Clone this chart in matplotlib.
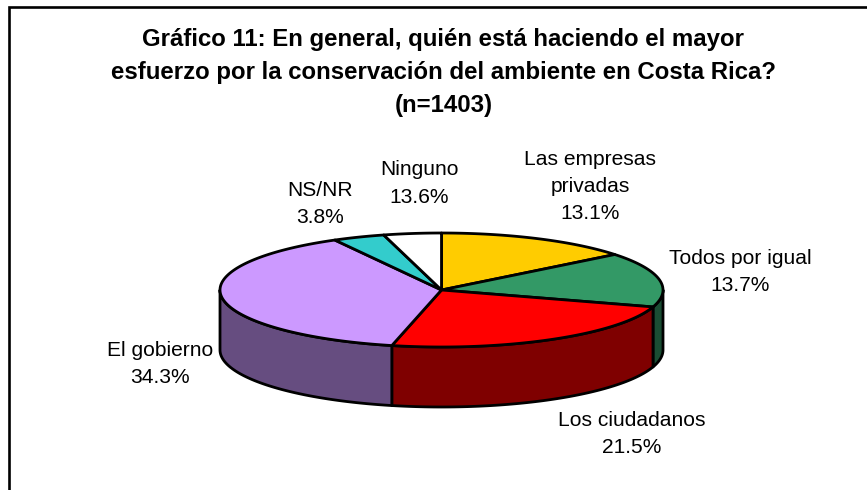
import numpy as np
import matplotlib
matplotlib.use("Agg")
import matplotlib.pyplot as plt

plt.rcParams["font.family"] = ["Liberation Sans", "DejaVu Sans"]

# printed labels
categories = ["Las empresas\nprivadas", "Todos por igual", "Los ciudadanos",
              "El gobierno", "NS/NR", "Ninguno"]
printed_values = [13.1, 13.7, 21.5, 34.3, 3.8, 13.6]
# share of the circle each slice really takes in the picture
# (Ninguno is drawn much smaller than its printed value)
drawn_shares = [14.3, 15.5, 23.8, 38.4, 3.8, 4.2]

top_colors = ["#ffcc00", "#339966", "#ff0000", "#cc99ff", "#33cccc", "#ffffff"]
side_colors = ["#7f6600", "#1a4d33", "#7f0000", "#664d80", "#1a6666", "#808080"]
label_pos = [(590, 186.5), (740, 272), (631.5, 434), (160, 364), (320, 204), (419, 183.5)]

title = ("Gráfico 11: En general, quién está haciendo el mayor\n"
         "esfuerzo por la conservación del ambiente en Costa Rica?\n(n=1403)")

CX, CY = 441.5, 290
RX, RY = 221.5, 57
DEPTH = 60


def rim(deg):
    # angle is clockwise from 12 o'clock
    t = np.radians(deg)
    return CX + RX * np.sin(t), CY - RY * np.cos(t)


fig = plt.figure(figsize=(8.67, 4.9), dpi=100)
ax = fig.add_axes([0, 0, 1, 1])
ax.set_xlim(0, 867)
ax.set_ylim(490, 0)
ax.axis("off")

# frame, only left and top show
ax.plot([8.5, 8.5, 867], [490, 7.5, 7.5], color="black", lw=1.9, solid_joinstyle="miter")

edges = np.concatenate([[0], np.cumsum(drawn_shares)]) * 3.6

# side walls, only the front half of the disc shows
for i in range(len(drawn_shares)):
    a = max(edges[i], 90)
    b = min(edges[i + 1], 270)
    if a >= b:
        continue
    x, y = rim(np.linspace(a, b, 80))
    ax.fill(np.r_[x, x[::-1]], np.r_[y, y[::-1] + DEPTH], facecolor=side_colors[i],
            edgecolor="black", lw=2, joinstyle="round", zorder=2)

# top face
for i in range(len(drawn_shares)):
    x, y = rim(np.linspace(edges[i], edges[i + 1], 120))
    ax.fill(np.r_[CX, x], np.r_[CY, y], facecolor=top_colors[i],
            edgecolor="black", lw=2, joinstyle="round", zorder=3)

for name, val, (lx, ly) in zip(categories, printed_values, label_pos):
    ax.text(lx, ly, f"{name}\n{val:.1f}%", ha="center", va="center", fontsize=15.1,
            color="black", linespacing=1.54)

ax.text(443.5, 72.5, title, ha="center", va="center", fontsize=17.25, fontweight="bold",
        color="black", linespacing=1.56)

fig.savefig("out.png", dpi=100)
